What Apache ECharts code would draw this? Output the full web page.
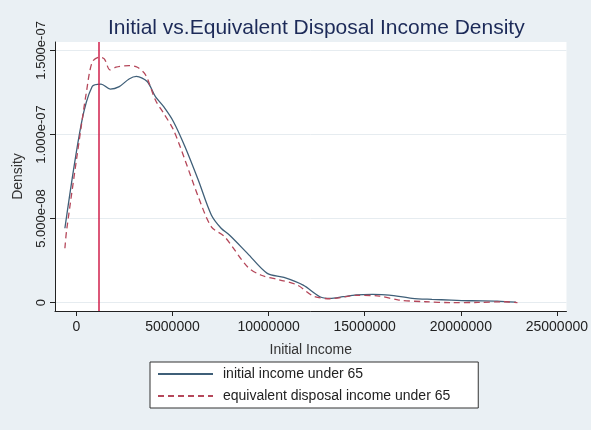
<!DOCTYPE html>
<html>
<head>
<meta charset="utf-8">
<script src="https://cdn.jsdelivr.net/npm/echarts@6/dist/echarts.min.js"></script>
<style>
  html, body { margin: 0; padding: 0; background: #eaf0f4; }
  #chart { width: 591px; height: 430px; }
</style>
</head>
<body>
<div id="chart"></div>
<script>
// income in millions, density in units of 1e-8
const initialX = [-0.6, 0.26, 0.82, 1.28, 1.76, 2.23, 2.74, 3.12, 3.68, 4.11, 4.54, 5.05, 5.65, 6.34, 7.02, 7.53, 7.96, 8.9, 9.93, 10.8, 11.8, 12.67, 13.2, 13.87, 14.56, 15.4, 16.27, 17.47, 18.5, 19.5, 20.55, 21.9, 22.87];
const initialY = [4.42, 10.67, 12.85, 13.0, 12.7, 12.85, 13.3, 13.45, 13.15, 12.25, 11.65, 10.76, 9.27, 7.29, 5.21, 4.42, 4.02, 2.93, 1.74, 1.5, 1.04, 0.35, 0.25, 0.35, 0.46, 0.49, 0.45, 0.25, 0.19, 0.15, 0.11, 0.09, 0.03];

const equivX = [-0.6, -0.51, 0.26, 0.51, 0.82, 1.2, 1.45, 1.75, 2.06, 2.74, 3.17, 3.6, 4.11, 4.54, 5.05, 5.65, 6.34, 7.02, 7.71, 8.9, 9.59, 10.6, 11.5, 12.33, 13.2, 14.56, 15.76, 16.78, 18.16, 19.5, 20.9, 22.27, 22.95];
const equivY = [3.23, 4.3, 10.56, 12.45, 14.3, 14.6, 14.5, 13.84, 14.0, 14.1, 14.0, 13.54, 12.05, 11.26, 10.27, 8.48, 6.3, 4.51, 3.92, 2.13, 1.64, 1.34, 1.04, 0.39, 0.23, 0.43, 0.39, 0.15, 0.05, 0.0, 0.01, 0.05, 0.0];

const xTicks = [0, 5, 10, 15, 20, 25];
const yTicks = [0, 5, 10, 15];
const markerX = 1.16;

const COLORS = {
  initial: "#3f5f78",
  equiv: "#b5475a",
  marker: "#d11f4b",
};

function fmtDensity(v) {
  if (v === 0) return "0";
  const [m, e] = (v * 1e-8).toExponential(3).split("e");
  const sign = e[0] === "-" ? "-" : "+";
  const digits = e.replace(/[-+]/, "").padStart(2, "0");
  return `${m}e${sign}${digits}`;
}

const chart = echarts.init(document.getElementById("chart"), null, { renderer: "canvas" });

chart.setOption({
  backgroundColor: "#eaf0f4",
  animation: false,
  textStyle: { fontFamily: "Liberation Sans, Arial, sans-serif" },
  title: {
    text: "Initial vs.Equivalent Disposal Income Density",
    left: 103,
    top: 13,
    textStyle: { color: "#1c2a58", fontSize: 21, fontWeight: "normal" },
  },
  grid: {
    left: 55,
    right: 18,
    top: 42,
    bottom: 119,
    show: true,
    backgroundColor: "#ffffff",
    borderWidth: 0,
    containLabel: false,
  },
  legend: {
    orient: "vertical",
    left: 150,
    top: 362,
    padding: [5, 28, 5, 7],
    itemWidth: 55,
    itemHeight: 14,
    itemGap: 8,
    backgroundColor: "#ffffff",
    borderColor: "#333333",
    borderWidth: 1,
    borderRadius: 0,
    itemStyle: { opacity: 0 },
    textStyle: { color: "#222", fontSize: 14, padding: [0, 0, 0, 5] },
    data: ["initial income under 65", "equivalent disposal income under 65"],
  },
  xAxis: {
    type: "value",
    min: -1.115,
    max: 25.5,
    name: "Initial Income",
    nameLocation: "middle",
    nameGap: 32,
    nameTextStyle: { color: "#333", fontSize: 14 },
    axisLine: { onZero: false, lineStyle: { color: "#222", width: 1 } },
    axisTick: { customValues: xTicks, length: 5, lineStyle: { color: "#222" } },
    axisLabel: {
      customValues: xTicks,
      color: "#222",
      fontSize: 14,
      margin: 9,
      formatter: (v) => String(Math.round(v * 1e6)),
    },
    splitLine: { show: false },
  },
  yAxis: {
    type: "value",
    min: -0.5,
    max: 15.5,
    name: "Density",
    nameLocation: "middle",
    nameGap: 30,
    nameTextStyle: { color: "#333", fontSize: 14 },
    axisLine: { show: true, onZero: false, lineStyle: { color: "#222", width: 1 } },
    axisTick: { customValues: yTicks, length: 5, lineStyle: { color: "#222" } },
    axisLabel: {
      customValues: yTicks,
      rotate: 90,
      color: "#222",
      fontSize: 13,
      margin: 7,
      formatter: fmtDensity,
    },
    splitLine: { show: true, lineStyle: { color: "#e6ecf0", width: 1 } },
  },
  series: [
    {
      name: "initial income under 65",
      type: "line",
      data: initialX.map((x, i) => [x, initialY[i]]),
      symbol: "none",
      smooth: 0.3,
      lineStyle: { color: COLORS.initial, width: 1.3 },
      itemStyle: { color: COLORS.initial },
      markLine: {
        silent: true,
        symbol: "none",
        label: { show: false },
        lineStyle: { color: COLORS.marker, width: 1.5, type: "solid" },
        data: [{ xAxis: markerX }],
      },
    },
    {
      name: "equivalent disposal income under 65",
      type: "line",
      data: equivX.map((x, i) => [x, equivY[i]]),
      symbol: "none",
      smooth: 0.3,
      lineStyle: { color: COLORS.equiv, width: 1.3, type: [6, 4] },
      itemStyle: { color: COLORS.equiv },
    },
  ],
});
</script>
</body>
</html>
